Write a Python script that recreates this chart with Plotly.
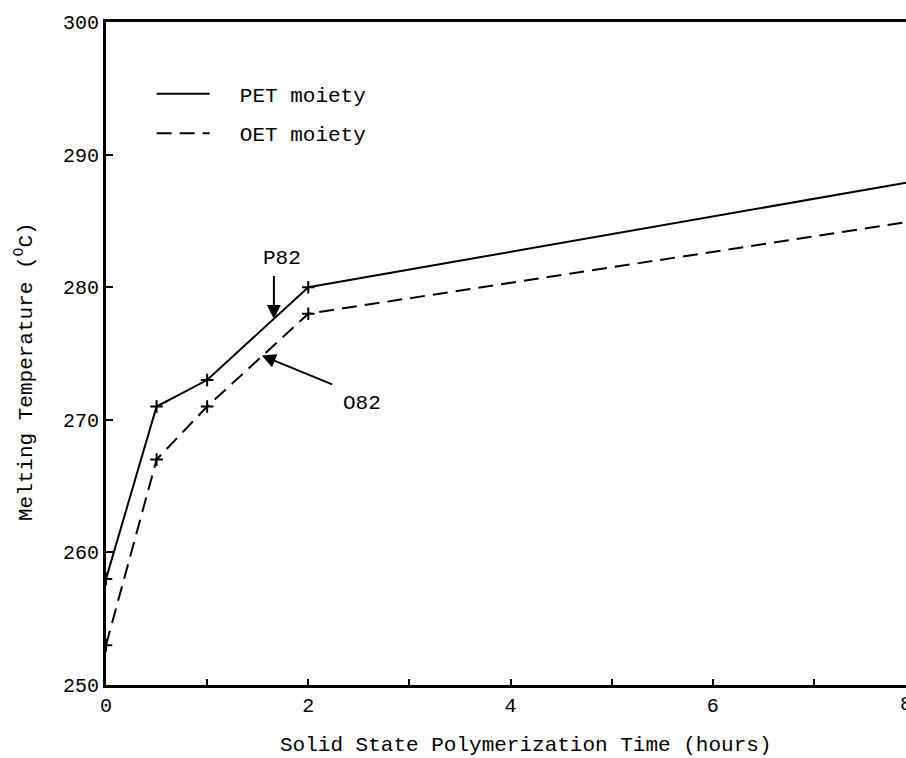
import plotly.graph_objects as go

# Data
time_h = [0, 0.5, 1, 2, 8]
pet_tm = [258, 271, 273, 280, 288]
oet_tm = [253, 267, 271, 278, 285]
x_tick_vals = [0, 2, 4, 6]
x_tick_text = ["0", "2", "4", "6"]
y_tick_vals = [250, 260, 270, 280, 290, 300]
y_tick_text = ["250", "260", "270", "280", "290", "300"]

FONT = "Liberation Mono, Courier New, monospace"
DASH = "15px,8px"

fig = go.Figure()
fig.add_trace(go.Scatter(
    x=time_h, y=pet_tm, mode="lines+markers", name="PET moiety", showlegend=False,
    line=dict(color="black", width=2),
    marker=dict(symbol="cross-thin", size=9, line=dict(color="black", width=2)),
))
fig.add_trace(go.Scatter(
    x=time_h, y=oet_tm, mode="lines+markers", name="OET moiety", showlegend=False,
    line=dict(color="black", width=2, dash=DASH),
    marker=dict(symbol="cross-thin", size=9, line=dict(color="black", width=2)),
))
# legend entries (lines only, as in the reference key)
fig.add_trace(go.Scatter(
    x=[None], y=[None], mode="lines", name="  PET moiety", legendgroup="a",
    line=dict(color="black", width=2),
))
fig.add_trace(go.Scatter(
    x=[None], y=[None], mode="lines", name="  OET moiety", legendgroup="b",
    line=dict(color="black", width=2, dash=DASH),
))

fig.update_layout(
    width=906, height=758,
    margin=dict(l=106, r=0, t=22, b=73),
    paper_bgcolor="white", plot_bgcolor="white",
    font=dict(family=FONT, size=20, color="black"),
    showlegend=True,
    legend=dict(
        x=0.057, y=0.922, xanchor="left", yanchor="top",
        bgcolor="rgba(0,0,0,0)", font=dict(size=21, family=FONT),
        itemwidth=53, tracegroupgap=9,
    ),
    xaxis=dict(
        range=[0, 7.91], showgrid=False, zeroline=False,
        showline=True, linecolor="black", linewidth=3, mirror=True,
        tickvals=x_tick_vals, ticktext=x_tick_text,
        ticks="inside", ticklen=6, tickwidth=2, tickcolor="black",
        minor=dict(dtick=1, tick0=0, ticks="inside", ticklen=6, tickwidth=2, tickcolor="black"),
        tickfont=dict(size=20, family=FONT),
    ),
    yaxis=dict(
        range=[250, 300], showgrid=False, zeroline=False,
        showline=True, linecolor="black", linewidth=3,
        tickvals=y_tick_vals, ticktext=y_tick_text,
        ticks="inside", ticklen=7, tickwidth=2, tickcolor="black",
        tickfont=dict(size=20, family=FONT),
    ),
)

annotations = [
    # axis titles
    dict(text="Solid State Polymerization Time (hours)", xref="paper", yref="paper",
         x=0.524, y=0, yshift=-60, showarrow=False, xanchor="center", yanchor="middle",
         font=dict(size=21, family=FONT)),
    dict(text="Melting Temperature (<sup>O</sup>C)", xref="paper", yref="y",
         x=0, xshift=-82, y=273.6, textangle=-90, showarrow=False,
         xanchor="center", yanchor="middle", font=dict(size=21, family=FONT)),
    # partially visible tick label 8 at the cut-off right edge
    dict(text="8", xref="paper", yref="paper", x=1, y=0, xshift=-8, yshift=-19,
         showarrow=False, xanchor="left", yanchor="middle", font=dict(size=20, family=FONT)),
    # P82 label and arrow
    dict(text="P82", xref="x", yref="y", x=1.74, y=282.2, showarrow=False,
         font=dict(size=21, family=FONT)),
    dict(text=" ", xref="x", yref="y", x=1.66, y=277.6, showarrow=True,
         ax=0, ay=-56, arrowhead=2, arrowsize=1.4, arrowwidth=2, arrowcolor="black"),
    # O82 label and arrow
    dict(text="O82", xref="x", yref="y", x=2.53, y=271.2, showarrow=False,
         font=dict(size=21, family=FONT)),
    dict(text=" ", xref="x", yref="y", x=1.54, y=274.85, showarrow=True,
         ax=78, ay=32, arrowhead=2, arrowsize=1.4, arrowwidth=2, arrowcolor="black"),
]
fig.update_layout(annotations=annotations)

fig.write_html("out.html")
